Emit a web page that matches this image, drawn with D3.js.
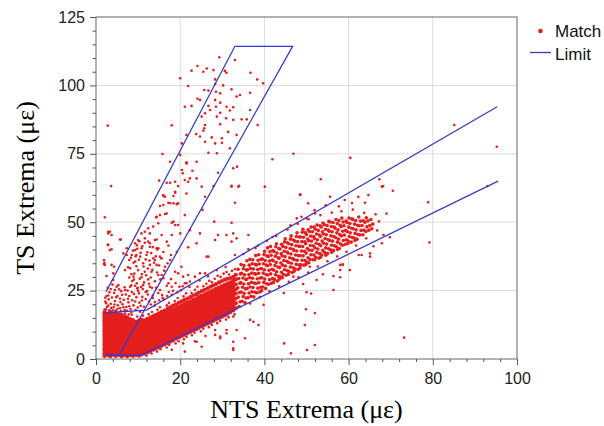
<!DOCTYPE html>
<html>
<head>
<meta charset="utf-8">
<script src="https://cdn.jsdelivr.net/npm/d3@7/dist/d3.min.js"></script>
<style>
    body { margin: 0; background: #fff; }
</style>
</head>
<body>
<svg id="chart" width="604" height="426"></svg>
<script>
(function () {
    'use strict';

    var xTicks = [0, 20, 40, 60, 80, 100],
        yTicks = [0, 25, 50, 75, 100, 125],
        xTitle = 'NTS Extrema (\u03bc\u03b5)',
        yTitle = 'TS Extrema (\u03bc\u03b5)',
        legendLabels = ['Match', 'Limit'];

    // dense part of the cloud, read column by column: [x, [y, ...]]
    var denseCols = [
        [2.0, [1.1, 2.0, 3.1, 4.0, 5.1, 6.0, 7.0, 8.1, 9.0, 10.1, 11.0, 12.1, 13.0, 14.1, 15.0, 16.0, 17.0]],
        [2.7, [1.5, 2.5, 3.6, 4.5, 5.5, 6.6, 7.5, 8.5, 9.6, 10.5, 11.6, 12.5, 13.5, 14.6, 15.5, 16.5]],
        [3.4, [1.0, 2.1, 3.0, 4.1, 5.0, 6.1, 7.0, 8.0, 9.1, 10.0, 11.1, 12.0, 13.1, 14.0, 15.1, 16.0, 17.1]],
        [4.0, [1.6, 2.5, 3.5, 4.6, 5.5, 6.5, 7.6, 8.5, 9.5, 10.6, 11.5, 12.6, 13.5, 14.5, 15.6, 16.6]],
        [4.7, [1.1, 2.0, 3.0, 4.1, 5.0, 6.0, 7.1, 8.0, 9.1, 10.0, 11.0, 12.1, 13.0, 14.0, 15.1, 16.0, 16.9]],
        [5.4, [1.5, 2.6, 3.5, 4.5, 5.6, 6.5, 7.5, 8.6, 9.5, 10.5, 11.6, 12.5, 13.6, 14.5, 15.5, 16.4]],
        [6.1, [1.0, 2.0, 3.1, 4.0, 5.0, 6.1, 7.0, 8.0, 9.1, 10.0, 11.1, 12.0, 13.0, 14.1, 15.0, 16.1]],
        [6.8, [1.5, 2.5, 3.5, 4.6, 5.5, 6.5, 7.6, 8.5, 9.5, 10.6, 11.5, 12.5, 13.6, 14.5, 15.6]],
        [7.4, [1.0, 2.1, 3.0, 4.0, 5.1, 6.0, 7.0, 8.1, 9.0, 10.0, 11.1, 12.0, 13.0, 14.1, 15.2]],
        [8.1, [1.4, 2.5, 3.5, 4.5, 5.6, 6.5, 7.5, 8.6, 9.5, 10.5, 11.6, 12.5, 13.5, 14.6]],
        [8.8, [1.1, 2.0, 3.0, 4.1, 5.0, 6.0, 7.1, 8.0, 9.0, 10.1, 11.0, 12.0, 13.1, 14.2]],
        [9.5, [1.5, 2.5, 3.6, 4.5, 5.5, 6.6, 7.5, 8.5, 9.6, 10.5, 11.5, 12.6, 13.6]],
        [10.2, [1.2, 2.1, 3.0, 4.0, 5.1, 6.0, 7.0, 8.1, 9.0, 10.0, 11.1, 12.0, 13.0, 14.0]],
        [10.8, [1.6, 2.6, 3.5, 4.5, 5.6, 6.5, 7.5, 8.6, 9.5, 10.5, 11.6, 12.5, 13.5, 14.4]],
        [11.5, [2.0, 3.0, 4.0, 5.1, 6.0, 7.0, 8.1, 9.0, 10.0, 11.1, 12.0, 13.0, 14.1]],
        [12.2, [2.4, 3.5, 4.5, 5.5, 6.6, 7.5, 8.5, 9.6, 10.5, 11.5, 12.6, 13.5, 14.7]],
        [12.9, [2.9, 3.9, 5.0, 6.0, 7.0, 8.1, 9.0, 10.0, 11.1, 12.0, 13.0, 14.1, 15.2]],
        [13.6, [3.4, 4.4, 5.5, 6.5, 7.5, 8.6, 9.5, 10.5, 11.6, 12.5, 13.5, 14.6, 15.7]],
        [14.2, [3.8, 4.9, 6.0, 7.0, 8.0, 9.1, 10.0, 11.0, 12.1, 13.0, 14.0, 15.1, 16.1]],
        [14.9, [4.3, 5.4, 6.5, 7.5, 8.5, 9.6, 10.5, 11.5, 12.6, 13.5, 14.5, 15.6, 16.7]],
        [15.6, [4.8, 5.9, 7.0, 8.0, 9.0, 10.1, 11.0, 12.0, 13.1, 14.0, 15.0, 16.1, 17.2]],
        [16.3, [5.3, 6.4, 7.5, 8.5, 9.5, 10.6, 11.5, 12.5, 13.6, 14.5, 15.5, 16.6, 17.7]],
        [17.0, [5.8, 6.9, 8.0, 9.0, 10.0, 11.1, 12.0, 13.0, 14.1, 15.0, 16.0, 17.1, 18.4]],
        [17.6, [6.3, 7.4, 8.5, 9.5, 10.5, 11.6, 12.5, 13.5, 14.6, 15.5, 16.5, 17.6, 18.9]],
        [18.3, [6.8, 7.9, 9.0, 10.0, 11.0, 12.1, 13.0, 14.0, 15.1, 16.0, 17.0, 18.1, 19.5]],
        [19.0, [7.4, 8.4, 9.5, 10.5, 11.5, 12.6, 13.5, 14.5, 15.6, 16.5, 17.5, 18.6, 20.0]],
        [19.7, [7.9, 8.9, 10.0, 11.0, 12.0, 13.1, 14.0, 15.0, 16.1, 17.0, 18.0, 19.1, 20.6]],
        [20.4, [8.4, 9.4, 10.5, 11.5, 12.5, 13.6, 14.5, 15.5, 16.6, 17.5, 18.5, 19.6, 21.1]],
        [21.0, [8.9, 9.9, 11.0, 12.0, 13.0, 14.1, 15.0, 16.0, 17.1, 18.0, 19.0, 20.1, 21.6]],
        [21.7, [9.4, 10.4, 11.5, 12.5, 13.5, 14.6, 15.5, 16.5, 17.6, 18.5, 19.5, 20.6, 22.1]],
        [22.4, [9.9, 10.9, 12.0, 13.0, 14.0, 15.1, 16.0, 17.0, 18.1, 19.0, 20.0, 21.1, 22.6]],
        [23.1, [10.4, 11.4, 12.5, 13.5, 14.5, 15.6, 16.5, 17.5, 18.6, 19.5, 20.5, 21.6, 23.2]],
        [23.8, [10.9, 11.9, 13.0, 14.0, 15.0, 16.1, 17.0, 18.0, 19.1, 20.0, 21.0, 22.1, 23.7]],
        [24.4, [11.4, 12.4, 13.5, 14.5, 15.5, 16.6, 17.5, 18.5, 19.6, 20.5, 21.5, 22.6, 24.2]],
        [25.1, [11.9, 12.9, 14.0, 15.0, 16.0, 17.1, 18.0, 19.0, 20.1, 21.0, 22.0, 23.1, 24.8]],
        [25.8, [12.4, 13.4, 14.5, 15.5, 16.5, 17.6, 18.5, 19.5, 20.6, 21.5, 22.5, 23.6, 25.3]],
        [26.5, [12.9, 13.9, 15.0, 16.0, 17.0, 18.1, 19.0, 20.0, 21.1, 22.0, 23.0, 24.1, 25.8]],
        [27.2, [13.4, 14.4, 15.5, 16.5, 17.5, 18.6, 19.5, 20.5, 21.6, 22.5, 23.5, 24.6, 26.4]],
        [27.8, [13.9, 14.9, 16.0, 17.0, 18.0, 19.1, 20.0, 21.0, 22.1, 23.0, 24.0, 25.1, 26.9]],
        [28.5, [14.4, 15.4, 16.5, 17.5, 18.5, 19.6, 20.5, 21.5, 22.6, 23.5, 24.5, 25.6, 27.4]],
        [29.2, [14.9, 15.9, 17.0, 18.0, 19.0, 20.1, 21.0, 22.0, 23.1, 24.0, 25.0, 26.1, 28.0]],
        [29.9, [15.4, 16.4, 17.5, 18.5, 19.5, 20.6, 21.5, 22.5, 23.6, 24.5, 25.5, 26.6, 28.5]],
        [30.6, [15.9, 16.9, 18.0, 19.0, 20.0, 21.1, 22.0, 23.0, 24.1, 25.0, 26.0, 27.1, 29.0]],
        [31.2, [16.5, 17.4, 18.5, 19.5, 20.5, 21.6, 22.5, 23.5, 24.6, 25.5, 26.5, 27.6, 29.3]],
        [31.9, [17.1, 18.0, 19.0, 20.1, 21.0, 22.0, 23.1, 24.0, 25.0, 26.1, 27.0, 28.0, 29.6]],
        [32.6, [17.8, 18.7, 19.7, 20.8, 21.7, 22.7, 23.8, 24.7, 25.7, 26.8, 27.7, 28.7, 30.0]],
        [33.2, [18.6, 20.4, 22.1, 23.9, 25.5, 27.3, 29.1, 30.8]]
    ];

    // upper half of the main band, where single dots can still be told apart
    var bandPts = [
        [34.0, 19.2], [34.25, 20.9], [33.8, 22.6], [34.1, 24.3], [33.7, 26.0], [34.2, 27.7], [33.9, 29.4], [34.3, 31.1], [33.75, 32.8],
        [34.7, 21.1], [34.95, 22.8], [34.5, 24.5], [34.8, 26.2], [34.4, 27.9], [34.9, 29.6], [34.6, 31.3], [35.0, 33.0], [34.45, 34.5],
        [35.4, 20.6], [35.65, 22.3], [35.2, 24.0], [35.5, 25.7], [35.1, 27.4], [35.6, 29.1], [35.3, 30.8], [35.7, 32.5], [35.15, 34.2],
        [36.1, 22.4], [36.35, 24.1], [35.9, 25.8], [36.2, 27.5], [35.8, 29.2], [36.3, 30.9], [36.0, 32.6], [36.4, 34.3], [35.85, 35.9],
        [36.8, 22.9], [37.05, 24.6], [36.6, 26.3], [36.9, 28.0], [36.5, 29.7], [37.0, 31.4], [36.7, 33.1], [37.1, 34.8], [36.55, 36.4],
        [37.5, 22.7], [37.75, 24.4], [37.3, 26.1], [37.6, 27.8], [37.2, 29.5], [37.7, 31.2], [37.4, 32.9], [37.8, 34.6], [37.25, 36.3],
        [38.2, 24.2], [38.45, 25.9], [38.0, 27.6], [38.3, 29.3], [37.9, 31.0], [38.4, 32.7], [38.1, 34.4], [38.5, 36.1], [37.95, 37.8],
        [38.9, 24.5], [39.15, 26.2], [38.7, 27.9], [39.0, 29.6], [38.6, 31.3], [39.1, 33.0], [38.8, 34.7], [39.2, 36.4], [38.65, 38.1],
        [39.6, 26.3], [39.85, 28.0], [39.4, 29.7], [39.7, 31.4], [39.3, 33.1], [39.8, 34.8], [39.5, 36.5], [39.9, 38.2], [39.35, 25.0],
        [40.3, 25.8], [40.55, 27.5], [40.1, 29.2], [40.4, 30.9], [40.0, 32.6], [40.5, 34.3], [40.2, 36.0], [40.6, 37.7], [40.05, 39.4],
        [41.0, 27.3], [41.25, 29.0], [40.8, 30.7], [41.1, 32.4], [40.7, 34.1], [41.2, 35.8], [40.9, 37.5], [41.3, 39.2], [40.75, 40.6],
        [41.7, 27.7], [41.95, 29.4], [41.5, 31.1], [41.8, 32.8], [41.4, 34.5], [41.9, 36.2], [41.6, 37.9], [42.0, 39.6], [41.45, 41.1],
        [42.4, 29.1], [42.65, 30.8], [42.2, 32.5], [42.5, 34.2], [42.1, 35.9], [42.6, 37.6], [42.3, 39.3], [42.7, 41.0], [42.15, 28.0],
        [43.1, 28.5], [43.35, 30.2], [42.9, 31.9], [43.2, 33.6], [42.8, 35.3], [43.3, 37.0], [43.0, 38.7], [43.4, 40.4], [42.85, 42.1],
        [43.8, 30.0], [44.05, 31.7], [43.6, 33.4], [43.9, 35.1], [43.5, 36.8], [44.0, 38.5], [43.7, 40.2], [44.1, 41.9], [43.55, 29.2],
        [44.5, 30.9], [44.75, 32.6], [44.3, 34.3], [44.6, 36.0], [44.2, 37.7], [44.7, 39.4], [44.4, 41.1], [44.8, 42.8], [44.25, 29.7],
        [45.2, 30.6], [45.45, 32.3], [45.0, 34.0], [45.3, 35.7], [44.9, 37.4], [45.4, 39.1], [45.1, 40.8], [45.5, 42.5], [44.95, 43.9],
        [45.9, 31.9], [46.15, 33.6], [45.7, 35.3], [46.0, 37.0], [45.6, 38.7], [46.1, 40.4], [45.8, 42.1], [46.2, 43.8], [45.65, 30.9],
        [46.6, 31.6], [46.85, 33.3], [46.4, 35.0], [46.7, 36.7], [46.3, 38.4], [46.8, 40.1], [46.5, 41.8], [46.9, 43.5], [46.35, 45.0],
        [47.3, 32.9], [47.55, 34.6], [47.1, 36.3], [47.4, 38.0], [47.0, 39.7], [47.5, 41.4], [47.2, 43.1], [47.6, 44.8], [47.05, 32.1],
        [48.0, 32.7], [48.25, 34.4], [47.8, 36.1], [48.1, 37.8], [47.7, 39.5], [48.2, 41.2], [47.9, 42.9], [48.3, 44.6], [47.75, 46.1],
        [48.7, 34.4], [48.95, 36.1], [48.5, 37.8], [48.8, 39.5], [48.4, 41.2], [48.9, 42.9], [48.6, 44.6], [49.0, 46.3], [48.45, 33.3],
        [49.4, 34.3], [49.65, 36.0], [49.2, 37.7], [49.5, 39.4], [49.1, 41.1], [49.6, 42.8], [49.3, 44.5], [49.7, 46.2], [49.15, 47.4],
        [50.1, 35.3], [50.35, 37.0], [49.9, 38.7], [50.2, 40.4], [49.8, 42.1], [50.3, 43.8], [50.0, 45.5], [50.4, 47.2], [49.85, 34.5],
        [50.8, 36.4], [51.05, 38.1], [50.6, 39.8], [50.9, 41.5], [50.5, 43.2], [51.0, 44.9], [50.7, 46.6], [51.1, 48.2], [50.55, 35.2],
        [51.5, 36.3], [51.75, 38.0], [51.3, 39.7], [51.6, 41.4], [51.2, 43.1], [51.7, 44.8], [51.4, 46.5], [51.8, 48.2],
        [52.2, 37.2], [52.45, 38.9], [52.0, 40.6], [52.3, 42.3], [51.9, 44.0], [52.4, 45.7], [52.1, 47.4], [52.5, 49.0], [51.95, 36.3],
        [52.9, 36.8], [53.15, 38.5], [52.7, 40.2], [53.0, 41.9], [52.6, 43.6], [53.1, 45.3], [52.8, 47.0], [53.2, 48.7],
        [53.6, 38.0], [53.85, 39.7], [53.4, 41.4], [53.7, 43.1], [53.3, 44.8], [53.8, 46.5], [53.5, 48.2], [53.9, 49.7], [53.35, 37.2],
        [54.3, 38.9], [54.55, 40.6], [54.1, 42.3], [54.4, 44.0], [54.0, 45.7], [54.5, 47.4], [54.2, 49.1], [54.6, 37.9],
        [55.0, 38.6], [55.25, 40.3], [54.8, 42.0], [55.1, 43.7], [54.7, 45.4], [55.2, 47.1], [54.9, 48.8], [55.3, 50.3],
        [55.7, 39.9], [55.95, 41.6], [55.5, 43.3], [55.8, 45.0], [55.4, 46.7], [55.9, 48.4], [55.6, 50.1], [56.0, 39.0],
        [56.4, 39.7], [56.65, 41.4], [56.2, 43.1], [56.5, 44.8], [56.1, 46.5], [56.6, 48.2], [56.3, 49.9],
        [57.1, 41.0], [57.35, 42.7], [56.9, 44.4], [57.2, 46.1], [56.8, 47.8], [57.3, 49.5], [57.0, 51.0], [57.4, 40.0],
        [57.8, 40.4], [58.05, 42.1], [57.6, 43.8], [57.9, 45.5], [57.5, 47.2], [58.0, 48.9], [57.7, 50.6],
        [58.5, 41.6], [58.75, 43.3], [58.3, 45.0], [58.6, 46.7], [58.2, 48.4], [58.7, 50.1], [58.4, 51.5],
        [59.2, 41.9], [59.45, 43.6], [59.0, 45.3], [59.3, 47.0], [58.9, 48.7], [59.4, 50.4],
        [59.9, 43.1], [60.15, 44.8], [59.7, 46.5], [60.0, 48.2], [59.6, 49.9], [60.1, 51.5], [59.8, 42.2],
        [60.6, 42.7], [60.85, 44.4], [60.4, 46.1], [60.7, 47.8], [60.3, 49.5], [60.8, 51.2],
        [61.3, 44.2], [61.55, 45.9], [61.1, 47.6], [61.4, 49.3], [61.0, 51.0], [61.5, 43.3],
        [62.0, 43.8], [62.25, 45.5], [61.8, 47.2], [62.1, 48.9], [61.7, 50.6],
        [62.7, 45.3], [62.95, 47.0], [62.5, 48.7], [62.8, 50.4], [62.4, 51.9],
        [63.4, 45.4], [63.65, 47.1], [63.2, 48.8], [63.5, 50.5],
        [64.1, 46.6], [64.35, 48.3], [63.9, 50.0], [64.2, 51.6],
        [64.8, 47.1], [65.05, 48.8], [64.6, 50.5],
        [65.5, 47.6], [65.75, 49.3], [65.3, 51.0]
    ];

    // ragged edges of the dense cloud
    var edgePts = [
        [8.5, 16.2], [9.8, 15.5], [11.2, 15.8], [12.5, 16.4], [13.3, 17.2], [14.6, 18.0], [15.2, 18.9], [16.8, 19.6],
        [17.3, 20.5], [18.7, 21.2], [19.4, 22.3], [20.8, 22.9], [21.4, 24.0], [22.7, 24.1], [23.5, 25.3], [24.1, 26.4],
        [25.5, 26.6], [26.2, 27.5], [26.9, 28.6], [27.5, 28.1], [28.2, 29.3], [28.9, 30.4], [29.6, 30.0], [30.3, 31.2],
        [31.0, 31.8], [31.6, 30.9], [32.3, 32.2], [33.0, 32.8], [10.5, 17.3], [13.9, 19.5], [16.1, 21.8], [18.0, 23.5],
        [20.2, 25.1], [22.2, 26.3], [24.6, 28.7], [26.6, 30.2], [28.7, 32.5], [30.8, 33.6],
        [12.0, 1.2], [13.2, 2.0], [14.5, 2.7], [15.3, 3.6], [16.8, 4.2], [17.4, 5.1], [18.9, 5.7], [19.6, 6.5],
        [20.9, 7.2], [21.5, 8.1], [22.8, 8.7], [23.4, 9.6], [24.9, 10.1], [25.5, 11.1], [26.8, 11.6], [27.5, 12.4],
        [28.8, 13.1], [29.5, 13.9], [30.9, 14.4], [31.5, 15.3], [32.9, 16.3], [18.0, 3.4], [23.5, 6.5], [26.0, 8.4],
        [2.3, 18.2], [2.9, 19.5], [2.2, 21.0], [3.6, 18.6], [4.4, 19.9], [5.1, 18.3], [5.8, 20.8], [6.5, 18.9],
        [7.3, 17.6], [7.9, 19.3], [8.6, 21.5], [9.4, 17.9], [2.5, 23.0], [3.2, 24.4], [4.8, 22.6], [6.2, 23.5],
        [7.6, 22.0], [9.0, 23.8], [10.3, 20.6], [11.0, 22.7], [2.8, 26.0], [3.9, 27.2], [5.5, 25.5], [9.8, 25.8],
        [11.8, 24.5], [12.6, 21.0], [13.5, 23.2], [14.3, 26.0], [2.2, 17.6], [4.0, 17.8], [5.9, 17.5], [6.9, 16.6],
        [7.8, 16.3], [8.4, 17.1],
        [2.0, 18.0], [2.6, 19.0], [3.1, 17.8], [3.5, 20.2], [4.2, 18.9], [4.7, 17.7], [5.2, 19.6], [5.7, 18.6],
        [6.3, 20.0], [6.8, 17.9], [7.2, 19.0], [7.7, 20.7], [8.2, 18.3], [8.9, 19.6], [9.3, 21.0], [9.9, 18.8],
        [10.6, 19.4], [10.9, 21.4], [2.4, 20.4], [3.0, 21.8], [3.8, 22.5], [4.5, 21.2], [5.1, 23.0], [5.7, 22.1],
        [6.6, 21.6], [7.1, 23.6], [7.9, 23.0], [8.5, 24.5], [9.6, 22.6], [10.2, 24.0], [2.2, 22.4], [2.9, 23.2],
        [3.5, 25.6], [4.3, 24.1], [4.9, 26.4], [6.0, 24.8], [6.8, 26.2], [7.5, 25.0], [8.4, 26.9], [10.7, 26.3],
        [11.4, 19.1], [11.8, 21.9], [12.3, 23.6], [13.0, 19.9], [14.0, 20.8], [15.0, 21.5], [15.8, 22.4], [16.9, 23.0],
        [18.3, 24.9], [19.3, 24.3], [20.6, 26.6], [14.8, 24.1],
        [36.2, 40.1], [38.5, 41.5], [40.6, 43.2], [42.8, 45.0], [45.5, 47.3], [47.9, 49.4], [50.5, 51.1], [53.3, 52.6],
        [56.0, 53.5], [58.3, 54.0], [61.0, 54.6], [63.7, 53.4], [66.4, 52.9], [67.2, 50.3], [66.8, 47.0], [64.2, 44.1],
        [61.8, 41.5], [59.5, 39.2], [57.3, 37.5], [55.0, 35.7], [52.7, 33.8], [50.4, 31.6], [48.1, 29.9], [45.8, 28.2],
        [43.5, 26.6], [41.2, 24.7], [38.9, 22.6], [36.6, 20.3], [39.8, 19.8], [44.6, 24.1], [49.2, 27.4], [53.9, 31.0],
        [58.6, 34.6], [62.4, 38.0], [65.9, 41.2], [35.0, 38.4], [37.9, 40.6], [41.9, 44.6], [46.2, 48.9], [48.8, 52.0],
        [51.9, 54.4], [54.6, 56.2], [57.7, 55.8], [60.8, 57.0]
    ];

    // the steep group (small NTS, large TS)
    var steepPts = [
        [29.3, 110.3], [24.1, 107.1], [33.0, 109.3], [26.3, 106.2], [25.5, 105.0], [22.7, 105.4], [27.9, 105.6], [30.6, 105.3],
        [31.0, 104.6], [36.7, 104.6], [20.0, 102.6], [28.3, 102.2], [38.3, 102.2], [39.7, 100.8], [21.9, 99.8], [28.3, 100.5],
        [30.2, 100.0], [25.7, 98.3], [26.7, 98.1], [28.5, 97.7], [32.2, 98.6], [29.5, 97.1], [33.4, 95.9], [36.6, 97.3],
        [24.1, 95.1], [24.7, 94.7], [34.2, 96.5], [28.3, 94.7], [29.5, 93.7], [21.1, 92.2], [22.7, 92.5], [26.7, 92.5],
        [28.5, 92.2], [31.0, 92.2], [32.6, 92.0], [27.1, 91.0], [31.8, 90.8], [36.6, 91.0], [25.9, 89.8], [29.5, 90.0],
        [25.1, 88.6], [28.7, 88.6], [30.9, 88.0], [34.6, 87.6], [35.8, 87.6], [32.6, 87.4], [18.0, 85.4], [25.9, 85.5],
        [29.5, 85.8], [25.7, 84.3], [25.5, 83.4], [38.4, 85.5], [31.4, 83.0], [33.4, 81.9], [23.8, 82.2], [21.5, 81.9],
        [24.7, 81.3], [27.5, 81.0], [29.9, 80.7], [25.9, 79.4], [28.3, 78.8], [29.9, 79.0], [20.4, 78.8], [31.8, 77.0],
        [26.7, 75.4], [28.7, 75.2], [20.0, 74.6], [15.8, 74.9], [33.5, 70.3], [32.6, 69.7], [21.5, 71.9], [17.6, 72.1],
        [20.4, 69.1], [20.6, 67.9], [22.9, 68.8], [23.9, 66.0], [29.0, 68.1], [18.8, 64.8], [16.8, 64.4], [21.9, 64.8],
        [15.0, 65.2], [21.1, 65.4], [27.9, 63.2], [32.2, 63.0], [33.8, 63.0], [40.1, 63.0], [41.9, 73.0], [16.0, 59.9],
        [18.8, 61.1], [2.8, 85.3], [3.6, 63.2], [46.9, 75.0],
        [21.5, 71.5], [23.9, 72.1], [22.3, 66.0], [17.6, 64.4], [19.5, 63.2], [16.4, 59.3], [18.4, 59.6], [21.5, 60.5],
        [16.0, 56.3], [17.2, 57.1], [18.4, 56.9], [19.5, 56.9], [15.2, 52.6], [14.3, 51.8], [16.8, 53.2], [18.0, 49.8],
        [14.8, 49.6], [21.1, 52.6], [22.3, 47.1], [19.5, 49.0], [23.9, 42.3], [21.9, 40.8], [25.3, 54.5], [25.1, 63.0],
        [2.1, 51.8], [2.9, 46.5], [3.7, 45.3], [5.9, 43.7], [2.9, 41.7], [3.7, 40.1], [1.9, 36.2], [1.9, 34.7],
        [4.3, 33.7], [7.9, 36.2], [6.5, 38.6], [7.3, 40.5], [9.6, 38.0], [9.3, 42.3], [11.6, 44.1], [10.8, 45.9],
        [12.4, 47.8], [14.0, 43.5], [12.8, 42.3], [14.4, 40.5], [15.2, 37.4], [16.4, 33.7], [17.6, 36.2], [15.6, 30.7],
        [19.5, 31.3], [25.9, 31.3], [26.7, 37.4],
        [16.0, 59.6], [18.8, 60.8], [16.4, 53.0], [14.4, 52.0], [15.2, 55.9], [17.6, 56.9], [19.2, 56.6], [18.4, 50.2],
        [18.8, 49.0], [13.6, 48.4], [11.6, 46.5], [12.8, 45.9], [15.6, 45.3], [18.0, 45.3], [10.0, 43.5], [12.4, 42.9],
        [14.4, 43.7], [16.8, 42.9], [20.0, 45.9], [9.3, 39.8], [10.8, 40.5], [12.8, 41.0], [14.8, 40.5], [8.5, 38.0],
        [10.5, 37.4], [12.0, 38.0], [13.6, 36.8], [15.6, 36.8], [9.3, 35.6], [11.2, 35.0], [12.8, 34.4], [14.4, 34.4],
        [8.1, 33.2], [10.0, 32.5], [11.6, 31.9], [13.2, 31.9], [14.8, 30.7], [8.9, 30.1], [10.8, 29.9], [12.4, 29.1],
        [9.7, 27.7], [11.2, 27.0], [12.8, 26.4], [8.1, 26.4], [6.9, 25.2], [18.8, 31.9], [20.7, 30.1], [19.2, 39.2],
        [20.3, 33.7], [21.9, 30.7], [23.5, 30.1], [21.1, 27.7], [24.7, 31.3], [4.1, 28.9], [5.3, 27.0], [4.5, 25.2],
        [2.9, 45.9], [3.3, 46.5], [2.8, 41.7], [3.3, 39.8], [2.0, 35.2], [2.1, 34.4], [2.5, 30.3], [3.7, 34.4],
        [4.1, 31.3], [5.7, 43.7], [6.9, 32.5], [7.3, 38.0],
        [8.6, 28.5], [9.1, 31.2], [9.6, 33.9], [10.2, 36.3], [10.6, 38.8], [11.0, 41.2], [11.4, 28.0], [11.9, 30.6],
        [12.3, 33.1], [12.7, 36.0], [13.1, 38.7], [13.5, 40.9], [9.9, 26.0], [10.4, 29.3], [10.9, 31.0], [11.3, 33.8],
        [11.8, 36.4], [12.2, 39.0], [8.9, 35.2], [9.4, 37.6], [9.8, 40.3], [10.3, 43.0], [12.6, 27.5], [13.0, 29.8],
        [13.4, 32.6], [13.8, 35.2], [14.2, 37.5], [14.6, 40.0], [8.4, 31.0], [9.0, 29.0], [9.3, 26.8], [10.0, 24.9],
        [11.1, 25.6], [12.1, 24.8], [13.3, 26.0], [14.0, 28.4], [14.5, 31.6], [15.0, 34.2], [15.5, 36.8], [16.0, 39.1],
        [17.2, 41.5], [17.8, 38.0], [15.3, 29.1], [16.2, 32.3], [17.0, 35.0], [7.9, 29.8], [7.6, 33.5], [8.3, 37.0],
        [8.8, 39.6], [9.7, 41.6], [11.6, 42.5], [13.5, 22.3], [15.7, 23.4], [17.3, 24.5], [19.8, 26.4], [16.8, 26.8],
        [15.2, 25.2], [18.9, 27.8], [17.8, 29.2]
    ];

    // isolated points away from both groups
    var strayPts = [
        [28.1, 50.2], [32.2, 49.8], [33.0, 57.1], [32.2, 63.3], [34.0, 63.3], [48.5, 59.9], [50.4, 56.9], [55.6, 59.3],
        [47.7, 51.4], [50.0, 51.4], [52.0, 53.2], [36.2, 45.3], [32.6, 45.9], [33.4, 44.1], [28.3, 43.5], [26.3, 37.4],
        [29.0, 45.3], [31.0, 45.3], [32.2, 42.9], [24.7, 45.9], [25.9, 59.3], [33.0, 38.0], [21.5, 27.7], [22.3, 28.3],
        [17.2, 27.7], [18.0, 26.4], [16.0, 29.5], [14.0, 36.2],
        [59.1, 58.1], [62.3, 59.3], [64.7, 59.9], [67.9, 63.0], [69.0, 53.2], [63.9, 57.1], [48.5, 60.2], [67.3, 65.7],
        [68.2, 63.2], [70.5, 61.5], [60.4, 73.5], [53.4, 65.7], [95.2, 77.6], [85.1, 85.5], [93.0, 63.2], [78.9, 57.3],
        [79.2, 42.6], [73.2, 7.8],
        [50.0, 24.4], [51.1, 23.9], [56.4, 25.2], [49.9, 18.2], [52.0, 16.8], [49.6, 12.4], [52.0, 5.1], [50.1, 3.3],
        [60.3, 32.5], [44.7, 5.7], [46.3, 2.1], [38.6, 12.4], [37.4, 13.6], [32.6, 15.5], [32.6, 6.3], [31.0, 10.6],
        [29.5, 8.2], [28.3, 8.8], [32.6, 3.9], [58.0, 32.5], [65.1, 37.4], [67.9, 42.3], [68.3, 45.3], [46.9, 30.1],
        [52.4, 28.9], [50.8, 33.7], [58.0, 34.4], [28.3, 10.6], [29.5, 7.6], [31.0, 9.4], [23.9, 6.3], [25.1, 4.5],
        [21.1, 2.7], [20.7, 5.7], [32.6, 3.3], [36.6, 14.3], [35.4, 7.6], [33.4, 10.6], [58.6, 34.4], [56.4, 30.3],
        [58.0, 29.9], [69.8, 44.5], [65.1, 38.6], [63.1, 38.0]
    ];

    // limit polylines
    var limitSteep = [[2.4, 24.6], [33.0, 114.3], [46.7, 114.3], [5.5, 1.4], [2.2, 1.4]],
        limitUpper = [[2.1, 16.9], [12.0, 17.9], [95.3, 92.2]],
        limitLower = [[2.2, 1.4], [10.8, 1.4], [95.5, 65.0]];

    var plot = {left: 96, top: 17, width: 421, height: 342},
        red = '#e41e1e',
        blue = '#3a3ac8',
        sansFont = '"Liberation Sans", Arial, sans-serif',
        serifFont = '"Liberation Serif", "Times New Roman", serif';

    var svg = d3.select('#chart'),
        g = svg.append('g').attr('transform', 'translate(' + plot.left + ',' + plot.top + ')');

    var x = d3.scaleLinear().domain([0, 100]).range([0, plot.width]),
        y = d3.scaleLinear().domain([0, 125]).range([plot.height, 0]);

    function flattenCols(cols) {
        var pts = [];
        cols.forEach(function (col) {
            col[1].forEach(function (v) {
                pts.push([col[0], v]);
            });
        });
        return pts;
    }

    function drawGrid() {
        g.append('g').selectAll('line')
            .data(xTicks.slice(1, -1))
            .enter().append('line')
            .attr('x1', function (d) { return x(d); })
            .attr('x2', function (d) { return x(d); })
            .attr('y1', 0).attr('y2', plot.height)
            .attr('stroke', '#dcdcdc');
        g.append('g').selectAll('line')
            .data(yTicks.slice(1, -1))
            .enter().append('line')
            .attr('y1', function (d) { return y(d); })
            .attr('y2', function (d) { return y(d); })
            .attr('x1', 0).attr('x2', plot.width)
            .attr('stroke', '#dcdcdc');
    }

    function styleAxis(sel) {
        sel.select('.domain').remove();
        sel.selectAll('line').attr('stroke', '#555');
        sel.selectAll('text')
            .attr('fill', '#222')
            .style('font-family', sansFont)
            .style('font-size', '16px');
    }

    function drawAxes() {
        var xMinor = d3.range(0, 101, 4).filter(function (d) { return d % 20 !== 0; }),
            yMinor = d3.range(0, 126, 5).filter(function (d) { return d % 25 !== 0; });

        g.append('g')
            .attr('transform', 'translate(0,' + plot.height + ')')
            .call(d3.axisBottom(x).tickValues(xMinor).tickSize(3).tickFormat(''))
            .call(styleAxis);
        g.append('g')
            .attr('transform', 'translate(0,' + plot.height + ')')
            .call(d3.axisBottom(x).tickValues(xTicks).tickSize(6).tickPadding(8))
            .call(styleAxis);
        g.append('g')
            .call(d3.axisLeft(y).tickValues(yMinor).tickSize(3.5).tickFormat(''))
            .call(styleAxis);
        g.append('g')
            .call(d3.axisLeft(y).tickValues(yTicks).tickSize(6).tickPadding(5))
            .call(styleAxis);

        g.append('rect')
            .attr('width', plot.width)
            .attr('height', plot.height)
            .attr('fill', 'none')
            .attr('stroke', '#666');
    }

    // overlapping dots in the crowded parts are drawn a little larger so they merge
    function drawPoints(pts, r) {
        g.append('g').selectAll('circle')
            .data(pts)
            .enter().append('circle')
            .attr('cx', function (d) { return x(d[0]); })
            .attr('cy', function (d) { return y(d[1]); })
            .attr('r', r)
            .attr('fill', red);
    }

    function drawLimits() {
        var line = d3.line()
            .x(function (d) { return x(d[0]); })
            .y(function (d) { return y(d[1]); });
        [limitSteep, limitUpper, limitLower].forEach(function (pts) {
            g.append('path')
                .attr('d', line(pts))
                .attr('fill', 'none')
                .attr('stroke', blue)
                .attr('stroke-width', 1.3);
        });
    }

    function drawTitles() {
        svg.append('text')
            .text(xTitle)
            .attr('x', plot.left + plot.width / 2)
            .attr('y', 418)
            .attr('text-anchor', 'middle')
            .style('font-family', serifFont)
            .style('font-size', '26px');
        svg.append('text')
            .text(yTitle)
            .attr('transform', 'translate(34,' + (plot.top + plot.height / 2) + ') rotate(-90)')
            .attr('text-anchor', 'middle')
            .style('font-family', serifFont)
            .style('font-size', '26px');
    }

    function drawLegend() {
        var lg = svg.append('g').attr('transform', 'translate(530,0)');
        lg.append('circle')
            .attr('cx', 10.5).attr('cy', 31).attr('r', 2.3)
            .attr('fill', red);
        lg.append('line')
            .attr('x1', 0).attr('x2', 21)
            .attr('y1', 52.5).attr('y2', 52.5)
            .attr('stroke', blue).attr('stroke-width', 1.3);
        lg.selectAll('text')
            .data(legendLabels)
            .enter().append('text')
            .text(function (d) { return d; })
            .attr('x', 25)
            .attr('y', function (d, i) { return 37 + i * 22.5; })
            .attr('fill', '#111')
            .style('font-family', sansFont)
            .style('font-size', '17px');
    }

    drawGrid();
    drawAxes();
    drawPoints(flattenCols(denseCols), 2.1);
    drawPoints(bandPts, 1.8);
    drawPoints(edgePts.concat(steepPts, strayPts), 1.3);
    drawLimits();
    drawTitles();
    drawLegend();
}());
</script>
</body>
</html>
